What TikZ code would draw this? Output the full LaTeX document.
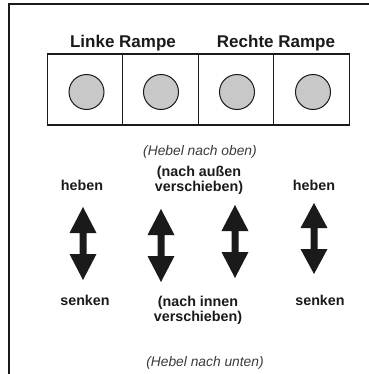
\documentclass[tikz,border=0pt]{standalone}
\usepackage{fontspec}
\setmainfont{Liberation Sans}
\definecolor{ink}{HTML}{1A1A1A}
\definecolor{knob}{HTML}{C8C8C8}
\definecolor{note}{HTML}{3A3A3A}
\begin{document}
\begin{tikzpicture}[x=1bp,y=-1bp,
  title/.style={font=\fontsize{17bp}{18bp}\selectfont\bfseries,text=ink,inner sep=0pt},
  lbl/.style={font=\fontsize{14.3bp}{15bp}\selectfont\bfseries,text=ink,inner sep=0pt,align=center},
  hint/.style={font=\fontsize{13.8bp}{15bp}\selectfont\itshape,text=note,inner sep=0pt},
  cell/.style={draw=ink,line width=1.3bp,minimum width=75.5bp,minimum height=71bp,inner sep=0pt,outer sep=0pt},
  knobst/.style={circle,draw=ink,line width=1bp,fill=knob,minimum size=35bp,inner sep=0pt}
]
\useasboundingbox (0,0) rectangle (369,374);
% frame (top and left edges)
\draw[ink,line width=1.5bp] (9,374) -- (9,4) -- (369,4);
% cells
\node[cell] (c1) at (85,89.5) {};
\node[cell] (c2) at (160.5,89.5) {};
\node[cell] (c3) at (236,89.5) {};
\node[cell] (c4) at (311.5,89.5) {};
\node[knobst] (k1) at (86.5,92) {};
\node[knobst] (k2) at (161,92) {};
\node[knobst] (k3) at (237,92) {};
\node[knobst] (k4) at (313,92) {};
% titles
\node[title] (tl) at (123,43) {Linke Rampe};
\node[title] (tr) at (276,43) {Rechte Rampe};
\node[hint] (up) at (200,152) {(Hebel nach oben)};
\node[hint] (dn) at (205,362.5) {(Hebel nach unten)};
% labels
\node[lbl] (h1) at (82,185) {heben};
\node[lbl] (h2) at (314,185) {heben};
\node[lbl] (out) at (199,180.5) {(nach außen\\verschieben)};
\node[lbl] (s1) at (85,300.5) {senken};
\node[lbl] (s2) at (320,300) {senken};
\node[lbl] (in) at (198,310) {(nach innen\\verschieben)};
% double arrows
\newcommand{\dblarrow}[4]{%
  \fill[ink] (#1,#2) -- (#1+13.5,#3) -- (#1+3.5,#3) -- (#1+3.5,#4) -- (#1+13.5,#4) -- (#1,#4+#3-#2) -- (#1-13.5,#4) -- (#1-3.5,#4) -- (#1-3.5,#3) -- (#1-13.5,#3) -- cycle;}
\dblarrow{83}{207}{233}{254}
\dblarrow{161}{209}{235}{256}
\dblarrow{235}{205}{231}{252}
\dblarrow{314}{203}{228}{249}
\end{tikzpicture}
\end{document}
